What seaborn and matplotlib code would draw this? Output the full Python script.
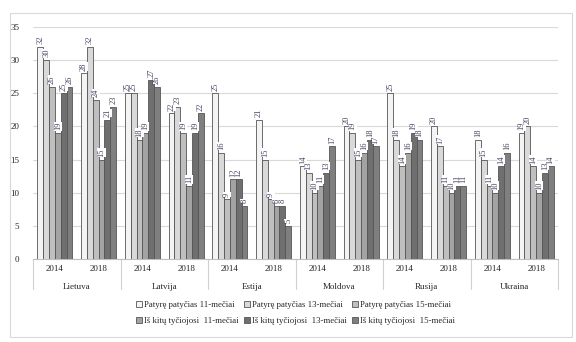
import numpy as np
import pandas as pd
import matplotlib
matplotlib.use("Agg")
import matplotlib.pyplot as plt
import seaborn as sns
from matplotlib.patches import Rectangle

countries = ["Lietuva", "Latvija", "Estija", "Moldova", "Rusija", "Ukraina"]
years = ["2014", "2018"]
series = ["Patyrę patyčias 11-mečiai", "Patyrę patyčias 13-mečiai", "Patyrę patyčias 15-mečiai",
          "Iš kitų tyčiojosi  11-mečiai", "Iš kitų tyčiojosi  13-mečiai", "Iš kitų tyčiojosi  15-mečiai"]

# values per series, ordered Lietuva14, Lietuva18, Latvija14, Latvija18, ...
p11 = [32, 28, 25, 22, 25, 21, 14, 20, 25, 20, 18, 19]
p13 = [30, 32, 25, 23, 16, 15, 13, 19, 18, 17, 15, 20]
p15 = [26, 24, 18, 19, 9, 9, 10, 15, 14, 11, 11, 14]
i11 = [19, 15, 19, 11, 12, 8, 11, 16, 16, 10, 10, 10]
i13 = [25, 21, 27, 19, 12, 8, 13, 18, 19, 11, 14, 13]
i15 = [26, 23, 26, 22, 8, 5, 17, 17, 18, 11, 16, 14]

colors = ["#f4f4f4", "#d9d9d9", "#bfbfbf", "#a3a3a3", "#6f6f6f", "#7f7f7f"]

cats = [f"{c} {y}" for c in countries for y in years]
rows = []
for s, vals in zip(series, [p11, p13, p15, i11, i13, i15]):
    for cat, v in zip(cats, vals):
        rows.append({"cat": cat, "series": s, "value": v})
df = pd.DataFrame(rows)

sns.set_style("white")
plt.rcParams["font.family"] = ["Liberation Serif", "DejaVu Serif"]

fig = plt.figure(figsize=(5.76, 3.42), dpi=100)
ax = fig.add_axes([33/576, 1 - 259/342, (558-33)/576, (259-27)/342])

sns.barplot(data=df, x="cat", y="value", hue="series", order=cats, hue_order=series,
            palette=colors, width=0.8, edgecolor="#555555", linewidth=0.6,
            ax=ax, legend=True, zorder=3)

ax.set_ylim(0, 35)
ax.set_xlim(-0.5, len(cats) - 0.5)
ax.set_yticks(range(0, 36, 5))
ax.yaxis.grid(True, color="#d9d9d9", linewidth=0.8, zorder=0)
ax.set_axisbelow(True)
for sp in ["top", "right", "left"]:
    ax.spines[sp].set_visible(False)
ax.spines["bottom"].set_color("#bfbfbf")
ax.set_xlabel("")
ax.set_ylabel("")
ax.tick_params(axis="y", labelsize=6.5, length=0, pad=10)
ax.set_xticks(range(len(cats)))
ax.set_xticklabels([y for c in countries for y in years], fontsize=6.5)
ax.tick_params(axis="x", length=0, pad=4)

# value labels
for cont in ax.containers:
    for bar in cont:
        h = bar.get_height()
        ax.text(bar.get_x() + bar.get_width() / 2, h + 0.4, f"{int(round(h))}",
                rotation=90, ha="center", va="bottom", fontsize=6, color="#404060",
                bbox=dict(facecolor="white", edgecolor="none", pad=0.1), zorder=4)

# country labels and separators
trans = ax.get_xaxis_transform()
for i, c in enumerate(countries):
    ax.text(2 * i + 0.5, -0.105, c, transform=trans, ha="center", va="top", fontsize=6.5)
for k in range(len(countries) + 1):
    ax.plot([2 * k - 0.5, 2 * k - 0.5], [0, -0.13], transform=trans, color="#d0d0d0",
            linewidth=0.8, clip_on=False)

# legend (row-major order)
handles, labels = ax.get_legend_handles_labels()
order = [0, 3, 1, 4, 2, 5]
ax.legend([handles[i] for i in order], [labels[i] for i in order],
          loc="upper center", bbox_to_anchor=(0.5, -0.165), ncol=3, frameon=False,
          fontsize=6.3, handlelength=0.7, handleheight=0.7, handletextpad=0.2,
          columnspacing=0.6, labelspacing=0.9, borderaxespad=0)

# outer border
fig.patches.append(Rectangle((10/576, 1 - 337/342), (572-10)/576, (337-13)/342,
                             transform=fig.transFigure, fill=False, edgecolor="#d9d9d9",
                             linewidth=0.8))

fig.savefig("out.png", dpi=100)
